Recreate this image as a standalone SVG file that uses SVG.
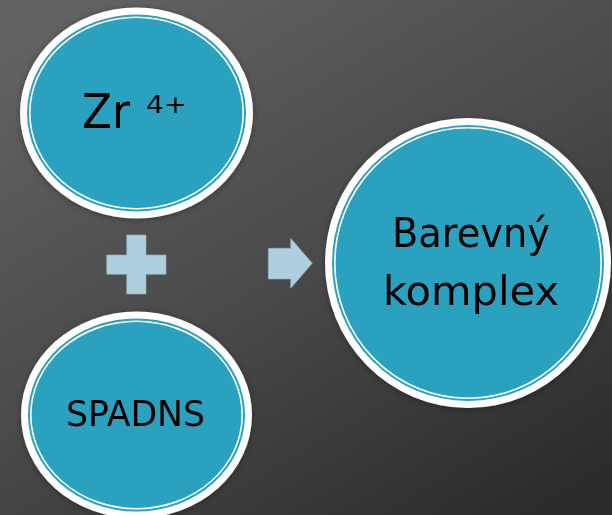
<svg xmlns="http://www.w3.org/2000/svg" width="612" height="515" viewBox="0 0 612 515">
<defs>
<linearGradient id="bg" x1="0.15" y1="0" x2="0.85" y2="1">
<stop offset="0" stop-color="#626262"/>
<stop offset="0.5" stop-color="#4a4a4a"/>
<stop offset="1" stop-color="#2c2c2c"/>
</linearGradient>
<filter id="sh" x="-10%" y="-10%" width="120%" height="120%">
<feGaussianBlur in="SourceAlpha" stdDeviation="3"/>
<feOffset dx="0" dy="1"/>
<feComponentTransfer><feFuncA type="linear" slope="0.35"/></feComponentTransfer>
<feMerge><feMergeNode/><feMergeNode in="SourceGraphic"/></feMerge>
</filter>
</defs>
<style>
.outer{fill:#ffffff}
.inner{fill:#2ca2bf}
.line{fill:none;stroke:#ffffff;stroke-width:1.6}
.lbl{font-family:"DejaVu Sans","Liberation Sans",sans-serif;fill:#000000}
.sym{fill:#aecfde;stroke:#8fb0bf;stroke-width:0.6}
</style>
<rect x="0" y="0" width="612" height="515" fill="url(#bg)"/>

<g id="node-zr" filter="url(#sh)">
<ellipse class="outer" cx="136.5" cy="113" rx="116.5" ry="105.5"/>
<ellipse class="inner" cx="136.5" cy="113" rx="109.5" ry="98.5"/>
<ellipse class="line" cx="136.5" cy="113" rx="106.7" ry="95.7"/>
<text class="lbl" x="82" y="128" font-size="48" textLength="48" lengthAdjust="spacingAndGlyphs">Zr</text>
<text class="lbl" x="146" y="113" font-size="24" textLength="41" lengthAdjust="spacingAndGlyphs">4+</text>
</g>

<g id="node-spadns" filter="url(#sh)">
<ellipse class="outer" cx="136.5" cy="415" rx="115.5" ry="103.5"/>
<ellipse class="inner" cx="136.5" cy="415" rx="108.5" ry="96.5"/>
<ellipse class="line" cx="136.5" cy="415" rx="105.7" ry="93.7"/>
<text class="lbl" x="66" y="426" font-size="36" textLength="139" lengthAdjust="spacingAndGlyphs">SPADNS</text>
</g>

<g id="node-komplex" filter="url(#sh)">
<ellipse class="outer" cx="468" cy="263" rx="143" ry="145"/>
<ellipse class="inner" cx="468" cy="263" rx="136" ry="138"/>
<ellipse class="line" cx="468" cy="263" rx="133.2" ry="135.2"/>
<text class="lbl" x="392" y="247" font-size="41" textLength="158" lengthAdjust="spacingAndGlyphs">Barevný</text>
<text class="lbl" x="383" y="305" font-size="41" textLength="176" lengthAdjust="spacingAndGlyphs">komplex</text>
</g>

<g id="connectors">
<path class="sym" d="M126.7,235 H146 V255 H166 V274.3 H146 V294 H126.7 V274.3 H106.7 V255 H126.7 Z"/>
<path class="sym" d="M268.3,248.3 H290.7 V238.3 L312.3,263.3 L290.7,288.3 V279 H268.3 Z"/>
</g>
</svg>
